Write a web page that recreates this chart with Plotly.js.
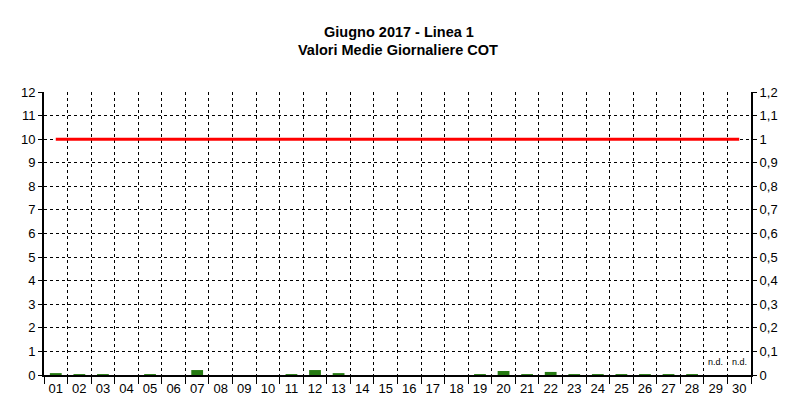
<!DOCTYPE html>
<html>
<head>
<meta charset="utf-8">
<script src="https://cdn.plot.ly/plotly-3.0.1.min.js"></script>
<style>
html,body{margin:0;padding:0;background:#fff;}
#chart{width:798px;height:414px;}
</style>
</head>
<body>
<div id="chart"></div>
<script>
var days = ["01","02","03","04","05","06","07","08","09","10","11","12","13","14","15","16","17","18","19","20","21","22","23","24","25","26","27","28","29","30"];
var dailyValues = [0.08,0.04,0.04,0,0.04,0,0.21,0,0,0,0.04,0.21,0.08,0,0,0,0,0,0.04,0.17,0.04,0.13,0.04,0.04,0.04,0.04,0.04,0.04,null,null];
var limitValue = 10;
var limitValues = days.map(function(){ return limitValue; });
var missingDays = ["29","30"];
var missingLabel = "n.d.";
var titleLines = ["Giugno 2017 - Linea 1","Valori Medie Giornaliere COT"];

var traces = [
  {
    type: "bar",
    x: days,
    y: dailyValues,
    width: 0.5,
    marker: {color: "#267a12", line: {width: 0}},
    hoverinfo: "x+y"
  },
  {
    type: "scatter",
    mode: "lines",
    x: days,
    y: limitValues,
    line: {color: "#ff0000", width: 3},
    hoverinfo: "y"
  },
  {
    type: "scatter",
    mode: "lines",
    x: days,
    y: limitValues.map(function(v){ return v / 10; }),
    yaxis: "y2",
    line: {width: 0},
    opacity: 0,
    hoverinfo: "skip",
    showlegend: false
  }
];

var annotations = missingDays.map(function(d){
  return {
    x: days.indexOf(d), y: 0.55, xref: "x", yref: "y",
    text: missingLabel, showarrow: false,
    font: {family: "Liberation Sans, Arial, sans-serif", size: 9, color: "#000"}
  };
});
annotations.push({
  x: 0.5, xref: "paper", xanchor: "center",
  y: 1.148, yref: "paper", yanchor: "middle",
  text: "<b>" + titleLines[1] + "</b>", showarrow: false,
  font: {family: "Liberation Sans, Arial, sans-serif", size: 14.5, color: "#000"}
});

var layout = {
  width: 798, height: 414,
  margin: {l: 44, r: 47, t: 92, b: 39},
  paper_bgcolor: "#fff",
  plot_bgcolor: "#fff",
  showlegend: false,
  separators: ",.",
  bargap: 0.5,
  font: {family: "Liberation Sans, Arial, sans-serif", size: 12, color: "#000"},
  title: {
    text: "<b>" + titleLines[0] + "</b>",
    x: 0.5, xanchor: "center",
    y: 0.924, yanchor: "middle",
    font: {family: "Liberation Sans, Arial, sans-serif", size: 14.5, color: "#000"}
  },
  xaxis: {
    type: "category",
    range: [-0.5, 29.5],
    tickson: "boundaries",
    ticks: "outside",
    ticklen: 7,
    tickcolor: "#000",
    showgrid: true,
    gridcolor: "#000",
    gridwidth: 1,
    griddash: "3px,3px",
    showline: true,
    linecolor: "#000",
    linewidth: 2,
    zeroline: false,
    tickfont: {size: 13, color: "#000"},
    fixedrange: true
  },
  yaxis: {
    range: [0, 12],
    dtick: 1,
    ticks: "outside",
    ticklen: 4,
    tickcolor: "#000",
    showgrid: true,
    gridcolor: "#000",
    gridwidth: 1,
    griddash: "3px,3px",
    showline: true,
    linecolor: "#000",
    linewidth: 2,
    zeroline: false,
    tickfont: {size: 13, color: "#000"},
    fixedrange: true
  },
  yaxis2: {
    overlaying: "y",
    side: "right",
    range: [0, 1.2],
    dtick: 0.1,
    ticks: "outside",
    ticklen: 4,
    tickcolor: "#000",
    showgrid: false,
    showline: true,
    linecolor: "#000",
    linewidth: 2,
    zeroline: false,
    tickfont: {size: 13, color: "#000"},
    fixedrange: true
  },
  annotations: annotations
};

Plotly.newPlot("chart", traces, layout, {displayModeBar: false, staticPlot: true});
</script>
</body>
</html>
